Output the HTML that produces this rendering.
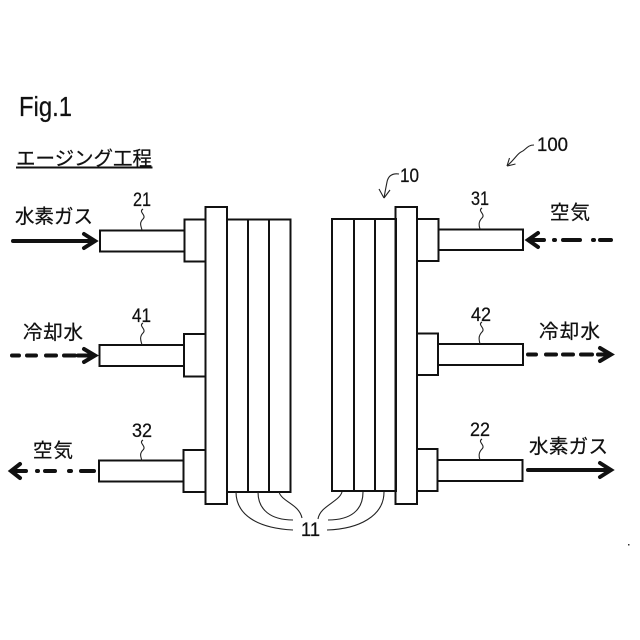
<!DOCTYPE html>
<html><head><meta charset="utf-8">
<style>html,body{margin:0;padding:0;background:#fff}svg{display:block}
text{font-family:"Liberation Sans","Noto Sans CJK JP",sans-serif;fill:#111;stroke:#111;stroke-width:.25}</style></head>
<body>
<svg width="640" height="640" viewBox="0 0 640 640" xmlns="http://www.w3.org/2000/svg">
<rect width="640" height="640" fill="#fff"/>
<g fill="none" stroke="#111" stroke-width="2">
<!-- left stack -->
<rect x="227" y="219.500" width="63.500" height="272.500"/>
<path d="M248 219.500V492M269 219.500V492"/>
<rect x="205.500" y="207" width="21.500" height="297"/>
<path d="M206 219.500H184.500V261.500H206M184.500 230.500H100V251.500H184.500"/>
<path d="M205.500 334H184V376.500H205.500M184 345H99.500V366H184"/>
<path d="M205.500 450H183.500V492H205.500M183.500 460.500H99V481.500H183.500"/>
<!-- right stack -->
<rect x="332" y="219" width="64" height="272"/>
<path d="M354 219V491M375 219V491"/>
<rect x="395.500" y="207" width="21.500" height="297"/>
<path d="M417.500 219H438.500V261H417.500M438.500 229.500H523V250H438.500"/>
<path d="M417 333.500H438V375H417M438 344H523V365H438"/>
<path d="M416.500 449H437.500V491H416.500M437.500 460H522.500V481H437.500"/>
</g>
<!-- squiggles -->
<g fill="none" stroke="#222" stroke-width="1.100">
<path d="M143 209c-5 3 4 6 0 10c-4 4 -2 7 -1 11"/>
<path d="M143 323c-5 3 4 6 0 10c-4 4 -2 8 -1 12"/>
<path d="M143 440c-5 3 4 6 0 10c-4 4 -2 7 -1 11"/>
<path d="M482 208c-5 3 4 6 0 10c-4 4 -3 8 -2 11"/>
<path d="M482 322c-5 3 4 6 0 10c-4 4 -3 8 -2 12"/>
<path d="M482 439c-5 3 4 6 0 10c-4 4 -3 8 -2 11"/>
<path d="M534 145c-7 0 -8 5 -13 7c-4 2 -5 6 -14 14"/>
<path d="M507 166l2.500 -8M507 166l8.500 -2"/>
<path d="M399 174c-8 -1 -11 3 -12 8c-1 5 -2 10 -3 16"/>
<path d="M384 198l-5 -9M384 198l6 -8"/>
<!-- 11 leaders -->
<path d="M236 492c0 22 20 36 57 38"/>
<path d="M258 492c0 18 13 28 35 28"/>
<path d="M279 492c3 10 20 12 23 26"/>
<path d="M384 492c0 24 -25 37 -57 38"/>
<path d="M363 492c0 18 -12 28 -35 28"/>
<path d="M342 492c-3 10 -22 14 -24 27"/>
</g>
<!-- arrows -->
<g fill="none" stroke="#111" stroke-width="4" stroke-linecap="round" stroke-linejoin="miter">
<path d="M13 241H92"/>
<path d="M84 234L95 241L84 248"/>
<path d="M12 355.500H19M27 355.500H36M46 355.500H56M64 355.500H75M78 355.500H90"/>
<path d="M84 349L95 355.500L84 362"/>
<path d="M12 471H26M37 471H38M45 471H55M69 471H71M81 471H94"/>
<path d="M20 464L11 471L20 478"/>
<path d="M529 240H544M554 240H555M563 240H580M593 240H594M600 240H611"/>
<path d="M538 233L528 240L538 247"/>
<path d="M528 354.500H536M546 354.500H556M563 354.500H573M581 354.500H592M598 354.500H608"/>
<path d="M600 348L611 354.500L600 361"/>
<path d="M528 470H608"/>
<path d="M600 463L611 470L600 477"/>
</g>
<!-- labels -->
<text x="19" y="116" font-size="28" textLength="53" lengthAdjust="spacingAndGlyphs">Fig.1</text>
<text x="16" y="165" font-size="19.500" textLength="136" lengthAdjust="spacing">エージング工程</text>
<path d="M16 167.500H152.500" stroke="#111" stroke-width="2"/>
<g font-size="19.500">
<text x="15" y="223" textLength="78" lengthAdjust="spacing">水素ガス</text>
<text x="23" y="339" textLength="60" lengthAdjust="spacing">冷却水</text>
<text x="33" y="457" textLength="40" lengthAdjust="spacing">空気</text>
<text x="550" y="219" textLength="40" lengthAdjust="spacing">空気</text>
<text x="539" y="338" textLength="61" lengthAdjust="spacing">冷却水</text>
<text x="529" y="453" textLength="79" lengthAdjust="spacing">水素ガス</text>
</g>
<g font-size="19">
<text x="133" y="206" textLength="18" lengthAdjust="spacingAndGlyphs">21</text>
<text x="132" y="322" textLength="19" lengthAdjust="spacingAndGlyphs">41</text>
<text x="132" y="437" textLength="20" lengthAdjust="spacingAndGlyphs">32</text>
<text x="471" y="205" textLength="18" lengthAdjust="spacingAndGlyphs">31</text>
<text x="471" y="321" textLength="20" lengthAdjust="spacingAndGlyphs">42</text>
<text x="470" y="436" textLength="20" lengthAdjust="spacingAndGlyphs">22</text>
<text x="400" y="182" textLength="19" lengthAdjust="spacingAndGlyphs">10</text>
<text x="537" y="151" textLength="31" lengthAdjust="spacingAndGlyphs">100</text>
<text x="301" y="536" textLength="19" lengthAdjust="spacingAndGlyphs">11</text>
</g>
<rect x="628" y="544" width="1.500" height="1.500" fill="#333"/>
</svg>
</body></html>
